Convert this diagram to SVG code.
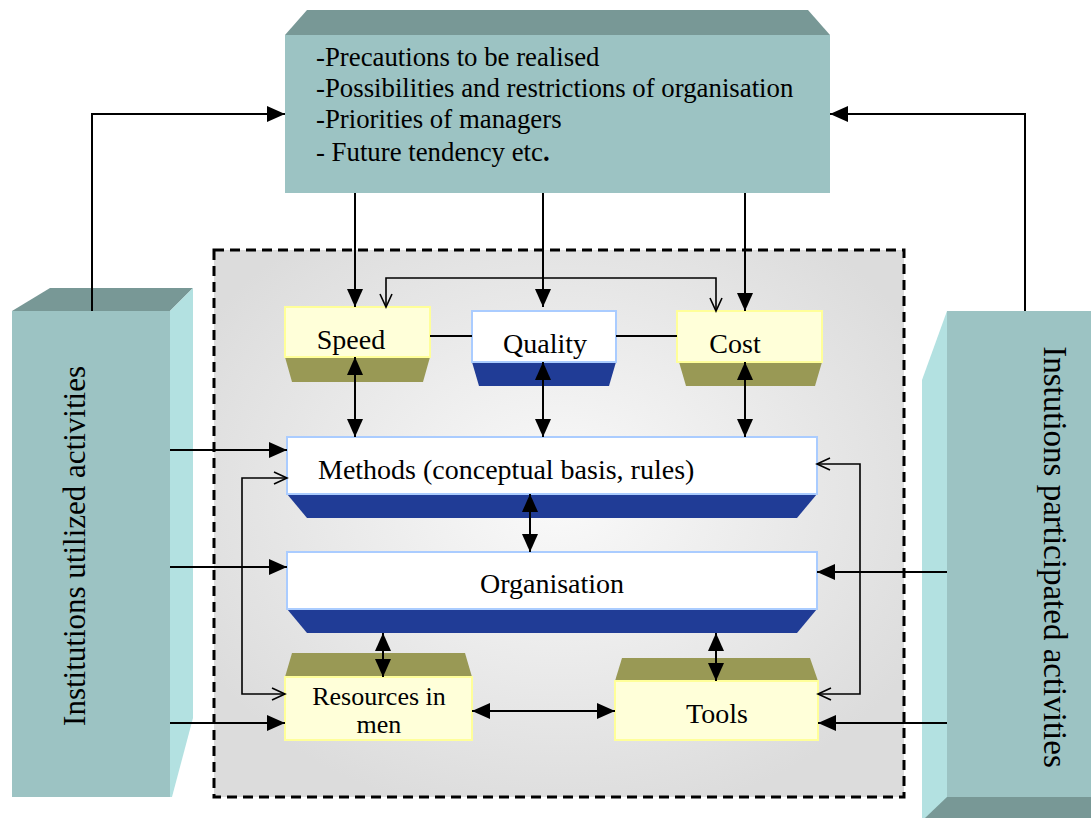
<svg xmlns="http://www.w3.org/2000/svg" width="1091" height="818" viewBox="0 0 1091 818">
<defs>
<style>
.t{font-family:"Liberation Serif","Times New Roman",serif;fill:#000}
.tt{font-size:26.8px}
.tl{font-size:28px}
.tr{font-size:26px}
.ttl{font-size:31px}
.ttr{font-size:33px}
.ln{stroke:#000;stroke-width:2;fill:none}
.lt{stroke:#000;stroke-width:1.6;fill:none}
.teal{fill:#9cc3c3}
.tealtop{fill:#789896}
.cyan{fill:#b3e1e1}
.yel{fill:#ffffd9;stroke:#ffff99;stroke-width:2}
.olive{fill:#999955}
.wht{fill:#fff;stroke:#aaccff;stroke-width:2}
.blue{fill:#203c96}
</style>
<radialGradient id="bg" cx="0.5" cy="0.45" r="0.6">
<stop offset="0" stop-color="#fafafa"/>
<stop offset="1" stop-color="#dcdcdc"/>
</radialGradient>
<marker id="af" markerUnits="userSpaceOnUse" markerWidth="20" markerHeight="16" refX="18" refY="8" orient="auto-start-reverse">
<path d="M0,0 L18,8 L0,16 z" fill="#000"/>
</marker>
<marker id="ao" markerUnits="userSpaceOnUse" markerWidth="16" markerHeight="14" refX="14" refY="7" orient="auto-start-reverse">
<path d="M1,1 L14,7 L1,13" fill="none" stroke="#000" stroke-width="1.6"/>
</marker>
</defs>
<rect width="1091" height="818" fill="#fff"/>

<g id="container">
<rect x="214" y="250" width="690" height="547" fill="url(#bg)" stroke="#000" stroke-width="3" stroke-dasharray="10,6"/>
</g>

<g id="top-box">
<polygon class="tealtop" points="285,35 307,10 808,10 830,35"/>
<rect class="teal" x="285" y="35" width="545" height="158"/>
<text class="t tt" x="316" y="66">-Precautions to be realised</text>
<text class="t tt" x="316" y="97">-Possibilities and restrictions of organisation</text>
<text class="t tt" x="316" y="128">-Priorities of managers</text>
<text class="t tt" x="316" y="161">- Future tendency etc<tspan font-weight="bold">.</tspan></text>
</g>

<g id="left-box">
<polygon class="tealtop" points="12,311 50,288 193,288 170,311"/>
<polygon class="cyan" points="170,311 193,288 193,718 172,797 170,797"/>
<rect class="teal" x="12" y="311" width="158" height="486"/>
<text class="t ttl" transform="translate(85,546) rotate(-90)" text-anchor="middle">Institutions utilized activities</text>
</g>

<g id="right-box">
<polygon class="cyan" points="922,380 947,311 947,818 922,818"/>
<rect class="teal" x="947" y="311" width="144" height="486"/>
<polygon class="tealtop" points="947,797 1091,797 1091,818 925,818"/>
<text class="t ttr" transform="translate(1044,557) rotate(90)" text-anchor="middle">Instutions participated activities</text>
</g>

<g id="speed">
<polygon class="olive" points="285,357 430,357 423,382 292,382"/>
<rect class="yel" x="285" y="307" width="145" height="50"/>
<text class="t tl" x="351" y="349" text-anchor="middle">Speed</text>
</g>

<g id="quality">
<polygon class="blue" points="472,362 616,362 609,386 479,386"/>
<rect class="wht" x="472" y="311" width="144" height="51"/>
<text class="t tl" x="545" y="353" text-anchor="middle">Quality</text>
</g>

<g id="cost">
<polygon class="olive" points="679,362 822,362 815,386 686,386"/>
<rect class="yel" x="677" y="311" width="145" height="51"/>
<text class="t tl" x="735" y="353" text-anchor="middle">Cost</text>
</g>

<g id="methods">
<polygon class="blue" points="287,494 817,494 797,518 307,518"/>
<rect class="wht" x="287" y="437" width="530" height="57"/>
<text class="t tl" x="318" y="479">Methods (conceptual basis, rules)</text>
</g>

<g id="organisation">
<polygon class="blue" points="287,609 817,609 797,633 307,633"/>
<rect class="wht" x="287" y="552" width="530" height="57"/>
<text class="t tl" x="552" y="593" text-anchor="middle">Organisation</text>
</g>

<g id="resources">
<polygon class="olive" points="285,677 472,677 465,653 292,653"/>
<rect class="yel" x="285" y="677" width="187" height="63"/>
<text class="t tr" x="379" y="705" text-anchor="middle">Resources in</text>
<text class="t tr" x="379" y="733" text-anchor="middle">men</text>
</g>

<g id="tools">
<polygon class="olive" points="615,681 818,681 810,658 622,658"/>
<rect class="yel" x="615" y="681" width="203" height="59"/>
<text class="t tl" x="717" y="723" text-anchor="middle">Tools</text>
</g>

<g id="connectors">
<line class="ln" x1="355" y1="193" x2="355" y2="307" marker-end="url(#af)"/>
<line class="ln" x1="543" y1="193" x2="543" y2="307" marker-end="url(#af)"/>
<line class="ln" x1="745" y1="193" x2="745" y2="311" marker-end="url(#af)"/>
<polyline class="lt" points="386,307 386,278 716,278 716,311" marker-start="url(#ao)" marker-end="url(#ao)"/>
<line class="ln" x1="430" y1="336" x2="472" y2="336"/>
<line class="ln" x1="616" y1="336" x2="677" y2="336"/>
<line class="ln" x1="355" y1="357" x2="355" y2="437" marker-start="url(#af)" marker-end="url(#af)"/>
<line class="ln" x1="543" y1="362" x2="543" y2="437" marker-start="url(#af)" marker-end="url(#af)"/>
<line class="ln" x1="745" y1="362" x2="745" y2="437" marker-start="url(#af)" marker-end="url(#af)"/>
<line class="ln" x1="530" y1="494" x2="530" y2="552" marker-start="url(#af)" marker-end="url(#af)"/>
<line class="ln" x1="383" y1="633" x2="383" y2="677" marker-start="url(#af)" marker-end="url(#af)"/>
<line class="ln" x1="716" y1="633" x2="716" y2="681" marker-start="url(#af)" marker-end="url(#af)"/>
<line class="ln" x1="472" y1="711" x2="615" y2="711" marker-start="url(#af)" marker-end="url(#af)"/>
<line class="ln" x1="170" y1="450" x2="287" y2="450" marker-end="url(#af)"/>
<line class="ln" x1="170" y1="567" x2="287" y2="567" marker-end="url(#af)"/>
<line class="ln" x1="170" y1="723" x2="285" y2="723" marker-end="url(#af)"/>
<polyline class="lt" points="287,478 242,478 242,694 285,694" marker-start="url(#ao)" marker-end="url(#ao)"/>
<polyline class="lt" points="817,464 860,464 860,694 818,694" marker-start="url(#ao)" marker-end="url(#ao)"/>
<line class="ln" x1="947" y1="572" x2="817" y2="572" marker-end="url(#af)"/>
<line class="ln" x1="947" y1="723" x2="818" y2="723" marker-end="url(#af)"/>
<polyline class="ln" points="92,311 92,114 285,114" marker-end="url(#af)"/>
<polyline class="ln" points="1025,311 1025,114 830,114" marker-end="url(#af)"/>
</g>
</svg>
